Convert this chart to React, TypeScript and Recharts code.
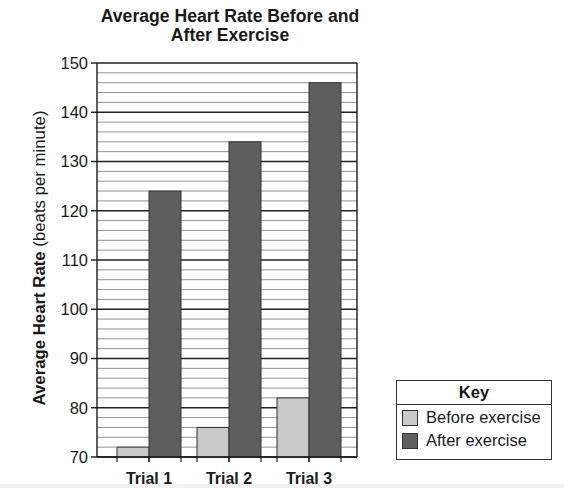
import { Bar, BarChart, CartesianGrid, XAxis, YAxis } from "recharts";

const trials = ["Trial 1", "Trial 2", "Trial 3"];
const beforeExercise = [72, 76, 82];
const afterExercise = [124, 134, 146];
const yTicks = [70, 80, 90, 100, 110, 120, 130, 140, 150];
const minorLines = [
  72, 74, 76, 78, 82, 84, 86, 88, 92, 94, 96, 98, 102, 104, 106, 108, 112, 114, 116, 118,
  122, 124, 126, 128, 132, 134, 136, 138, 142, 144, 146, 148,
];
const seriesNames = ["Before exercise", "After exercise"];
const seriesColors = ["#c9c9c9", "#5f5f5f"];

const data = trials.map((t, i) => ({
  name: t,
  before: beforeExercise[i],
  after: afterExercise[i],
}));

const font = "'Liberation Sans', Arial, sans-serif";
const ink = "#1a1a1a";

// bar with outline and little axis ticks under both edges
function OutlinedBar(props: any) {
  const { x, y, width, height, fill } = props;
  const base = y + height;
  return (
    <g>
      <rect x={x} y={y} width={width} height={height} fill={fill} stroke="#333" strokeWidth={1} />
      <line x1={x} y1={base} x2={x} y2={base + 5} stroke={ink} strokeWidth={1.2} />
      <line x1={x + width} y1={base} x2={x + width} y2={base + 5} stroke={ink} strokeWidth={1.2} />
    </g>
  );
}

function YLabel(props: any) {
  const vb = props.viewBox || {};
  const cx = 39;
  const cy = vb.y + vb.height / 2 - 2;
  return (
    <text
      x={cx}
      y={cy}
      transform={`rotate(-90, ${cx}, ${cy})`}
      textAnchor="middle"
      dominantBaseline="central"
      fontFamily={font}
      fontSize={16.8}
      fill={ink}
    >
      <tspan fontWeight="bold">Average Heart Rate</tspan>
      <tspan> (beats per minute)</tspan>
    </text>
  );
}

export default function App() {
  return (
    <div
      style={{
        position: "absolute",
        left: 0,
        top: 0,
        width: 564,
        height: 488,
        background: "#fff",
        fontFamily: font,
        overflow: "hidden",
      }}
    >
      <div
        style={{
          position: "absolute",
          left: 0,
          top: 484,
          width: 564,
          height: 4,
          background: "#f1f1f1",
        }}
      />
      <div
        style={{
          position: "absolute",
          left: 70,
          top: 7,
          width: 320,
          textAlign: "center",
          fontWeight: "bold",
          fontSize: 17.6,
          lineHeight: "19px",
          color: ink,
        }}
      >
        Average Heart Rate Before and
        <br />
        After Exercise
      </div>
      <BarChart
        width={564}
        height={488}
        data={data}
        margin={{ top: 63, right: 167, bottom: 1, left: 47 }}
        barCategoryGap={8}
        barGap={0}
      >
        <CartesianGrid
          yAxisId="left"
          vertical={false}
          horizontalValues={minorLines}
          stroke="#929292"
          strokeWidth={1}
        />
        <CartesianGrid
          yAxisId="left"
          vertical={false}
          horizontalValues={yTicks}
          stroke="#222"
          strokeWidth={1.4}
        />
        <XAxis
          dataKey="name"
          padding={{ left: 12, right: 8 }}
          height={30}
          tickLine={false}
          axisLine={{ stroke: ink, strokeWidth: 1.4 }}
          tick={{ fill: ink, fontSize: 16, fontWeight: "bold", fontFamily: font }}
          tickSize={6}
          tickMargin={10}
          yAxisId="left"
        />
        <YAxis
          yAxisId="left"
          domain={[70, 150]}
          ticks={yTicks}
          interval={0}
          width={50}
          tickSize={6}
          tickMargin={3}
          axisLine={{ stroke: ink, strokeWidth: 1.4 }}
          tickLine={{ stroke: ink, strokeWidth: 1.4 }}
          tick={{ fill: ink, fontSize: 16.5, fontFamily: font }}
          label={{ content: <YLabel /> }}
        />
        <YAxis
          yAxisId="right"
          orientation="right"
          domain={[70, 150]}
          ticks={yTicks}
          interval={0}
          width={40}
          tickSize={6}
          tickMargin={2}
          axisLine={{ stroke: ink, strokeWidth: 1.4 }}
          tickLine={{ stroke: ink, strokeWidth: 1.4 }}
          tick={{ fill: ink, fontSize: 16.5, fontFamily: font }}
        />
        <Bar
          yAxisId="left"
          dataKey="before"
          name={seriesNames[0]}
          fill={seriesColors[0]}
          shape={<OutlinedBar />}
          isAnimationActive={false}
        />
        <Bar
          yAxisId="left"
          dataKey="after"
          name={seriesNames[1]}
          fill={seriesColors[1]}
          shape={<OutlinedBar />}
          isAnimationActive={false}
        />
      </BarChart>
      <div
        style={{
          position: "absolute",
          left: 396,
          top: 380,
          width: 156,
          height: 80,
          border: "1.5px solid #333",
          boxSizing: "border-box",
          color: ink,
          fontSize: 16.5,
        }}
      >
        <div
          style={{
            height: 23,
            lineHeight: "23px",
            textAlign: "center",
            fontWeight: "bold",
            borderBottom: "1.5px solid #333",
          }}
        >
          Key
        </div>
        {seriesNames.map((n, i) => (
          <div
            key={n}
            style={{ display: "flex", alignItems: "center", height: 23, marginTop: i === 0 ? 1 : 0 }}
          >
            <span
              style={{
                display: "inline-block",
                width: 16,
                height: 16,
                marginLeft: 5,
                marginRight: 8,
                background: seriesColors[i],
                border: "1px solid #333",
                boxSizing: "border-box",
              }}
            />
            {n}
          </div>
        ))}
      </div>
    </div>
  );
}
